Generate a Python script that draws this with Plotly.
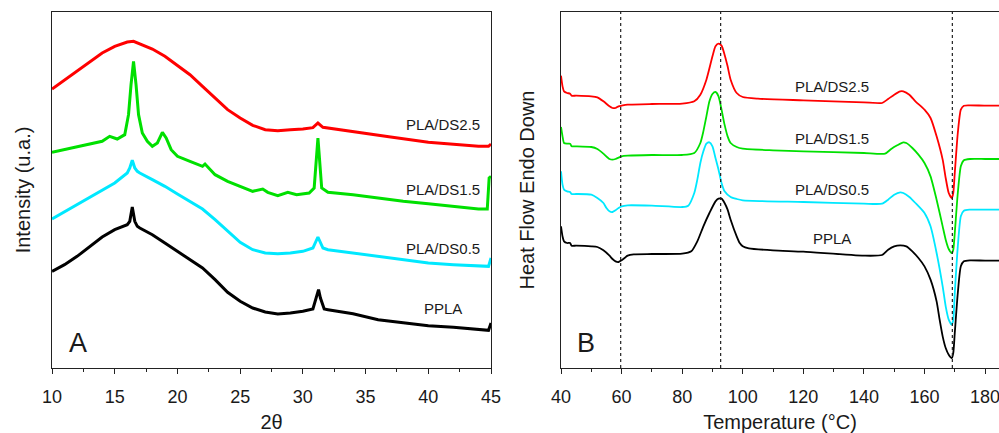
import plotly.graph_objects as go

# ---------------- XRD data (panel A) ----------------
xrd_names = ["PLA/DS2.5", "PLA/DS1.5", "PLA/DS0.5", "PPLA"]
xrd_colors = ["#ff0000", "#00e000", "#00e8ff", "#000000"]

red_2t = [10, 12, 14, 15, 16, 16.5, 17, 18, 19, 20, 21, 22, 23, 24, 25, 26, 27, 28, 29, 30,
          30.8, 31.2, 31.6, 33, 35, 37, 40, 42, 44, 44.8, 45]
red_i = [837, 890, 945, 965, 978, 980, 973, 957, 935, 908, 880, 845, 810, 775, 750, 728, 715, 712, 715, 717,
         721, 735, 722, 715, 705, 693, 677, 670, 665, 665, 672]

green_2t = [10, 11, 12, 13, 14, 14.6, 15.2, 15.8, 16.1, 16.3, 16.5, 16.7, 16.9, 17.2, 17.6, 18, 18.4, 18.8,
            19.1, 19.5, 20, 21, 22, 22.2, 22.6, 23, 24, 25, 26, 26.8, 27.2, 28, 28.8, 29.5, 30.5, 30.9,
            31.1, 31.2, 31.3, 31.5, 32, 34, 36, 38, 40, 42, 44, 44.7, 44.85, 45]
green_i = [647, 655, 665, 673, 680, 695, 687, 700, 760, 850, 920, 850, 760, 705, 680, 665, 675, 707,
           690, 655, 635, 620, 605, 612, 597, 580, 560, 545, 530, 537, 527, 517, 527, 520, 525, 540,
           640, 690, 640, 540, 527, 520, 510, 500, 493, 485, 477, 477, 570, 575]

cyan_2t = [10, 12, 14, 15, 16, 16.2, 16.4, 16.6, 16.8, 17, 18, 19, 20, 21, 22, 23, 24, 25, 26, 27, 28, 29,
           30, 30.8, 31.2, 31.6, 32, 34, 36, 38, 40, 42, 44, 44.8, 45]
cyan_i = [447, 490, 535, 555, 585, 600, 623, 600, 590, 585, 565, 545, 522, 500, 477, 445, 410, 377, 355,
          345, 343, 345, 350, 360, 393, 360, 355, 345, 333, 323, 315, 310, 305, 305, 330]

black_2t = [10, 11, 12, 13, 14, 15, 16, 16.2, 16.4, 16.6, 16.8, 17, 18, 19, 20, 21, 22, 23, 24, 25, 26,
            27, 28, 29, 30, 30.8, 31.1, 31.25, 31.4, 31.7, 32, 33, 34, 36, 38, 40, 42, 44, 44.8, 45]
black_i = [290, 310, 335, 363, 393, 415, 430, 440, 483, 440, 425, 420, 400, 375, 350, 325, 300, 265, 227,
           200, 180, 168, 162, 165, 170, 177, 220, 235, 210, 177, 175, 170, 163, 145, 135, 127, 122, 115,
           113, 135]

# ---------------- DSC data (panel B) ----------------
dsc_names = ["PLA/DS2.5", "PLA/DS1.5", "PLA/DS0.5", "PPLA"]
dsc_colors = ["#ff0000", "#00e000", "#00e8ff", "#000000"]

red_T = [40, 40.5, 41, 42, 43, 43.5, 45, 50, 52, 54, 56, 57, 58, 59, 60, 62, 70, 80, 84, 86, 88, 90, 91,
         92, 93, 94, 95, 96, 98, 100, 105, 120, 140, 146, 148, 150, 152, 153, 155, 157, 160, 162, 164,
         166, 167, 168, 169, 169.5, 170, 171, 172, 173, 175, 180, 184.6]
red_hf = [877, 845, 830, 825, 823, 817, 817, 815, 812, 800, 785, 780, 780, 785, 787, 790, 792, 793, 800,
          820, 865, 935, 965, 973, 967, 940, 905, 865, 825, 813, 808, 803, 797, 795, 807, 820, 830, 830,
          820, 800, 775, 750, 695, 625, 570, 525, 510, 525, 585, 705, 775, 787, 788, 787, 787]

green_T = [40, 40.5, 41, 42, 43, 43.5, 45, 50, 52, 54, 56, 57, 58, 60, 62, 70, 80, 84, 86, 87, 88, 89, 90,
           91, 92, 93, 94, 95, 96, 98, 100, 110, 120, 140, 147, 149, 151, 153, 154, 156, 158, 160, 162,
           164, 166, 167, 168, 169, 169.5, 170, 171, 172, 173, 175, 180, 184.6]
green_hf = [723, 695, 675, 673, 673, 665, 665, 663, 657, 643, 627, 625, 627, 635, 637, 639, 639, 645, 675,
            710, 755, 800, 822, 828, 815, 775, 730, 695, 675, 663, 658, 653, 650, 645, 643, 657, 668, 677,
            675, 660, 640, 615, 575, 505, 425, 385, 357, 345, 355, 405, 525, 605, 623, 627, 627, 627]

cyan_T = [40, 40.5, 41, 42, 43, 43.5, 45, 50, 52, 54, 55, 56, 57, 58, 59, 60, 62, 70, 80, 82, 84, 85, 86,
          87, 88, 89, 90, 91, 92, 93, 94, 96, 98, 100, 120, 140, 146, 148, 150, 152, 153, 155, 157, 160,
          162, 164, 166, 167, 168, 169, 169.5, 170, 171, 172, 173, 175, 180, 184.6]
cyan_hf = [590, 550, 535, 530, 528, 522, 522, 520, 510, 495, 480, 470, 468, 473, 480, 485, 488, 487, 483,
           487, 525, 565, 615, 650, 673, 677, 665, 630, 595, 555, 530, 513, 507, 503, 498, 493, 493, 505,
           520, 527, 525, 513, 495, 465, 425, 345, 245, 185, 145, 130, 145, 225, 365, 455, 472, 475, 475,
           475]

black_T = [40, 40.5, 41, 42, 43, 43.5, 45, 50, 52, 54, 56, 57, 58, 59, 60, 61, 62, 64, 70, 80, 83, 85, 87,
           89, 91, 92, 93, 94, 95, 96, 98, 99, 100, 102, 110, 120, 140, 146, 148, 150, 152, 154, 156, 158,
           160, 162, 164, 165, 166, 167, 168, 169, 169.5, 170, 171, 172, 173, 175, 180, 184.6]
black_hf = [425, 395, 380, 375, 375, 367, 367, 365, 363, 353, 337, 327, 320, 318, 323, 330, 337, 341, 342,
            343, 350, 380, 425, 465, 500, 508, 508, 495, 475, 445, 395, 375, 365, 359, 353, 349, 337, 339,
            355, 365, 368, 365, 350, 330, 305, 265, 200, 145, 95, 60, 40, 30, 45, 105, 225, 305, 320, 323,
            322, 322]

dsc_guides = [59.7, 92.7, 169.2]

xrd_x = [red_2t, green_2t, cyan_2t, black_2t]
xrd_y = [red_i, green_i, cyan_i, black_i]
dsc_x = [red_T, green_T, cyan_T, black_T]
dsc_y = [red_hf, green_hf, cyan_hf, black_hf]

FONT = "Liberation Sans, Arial, sans-serif"
TXT = "#1a1a1a"

fig = go.Figure()
for name, col, xs, ys in zip(xrd_names, xrd_colors, xrd_x, xrd_y):
    fig.add_trace(go.Scatter(x=xs, y=ys, mode="lines", name=name,
                             line=dict(color=col, width=3), xaxis="x", yaxis="y",
                             showlegend=False))
for name, col, xs, ys in zip(dsc_names, dsc_colors, dsc_x, dsc_y):
    fig.add_trace(go.Scatter(x=xs, y=ys, mode="lines", name=name,
                             line=dict(color=col, width=1.8, shape="spline", smoothing=0.6),
                             xaxis="x2", yaxis="y2", showlegend=False))

for g in dsc_guides:
    fig.add_shape(type="line", xref="x2", yref="y2 domain", x0=g, x1=g, y0=0, y1=1,
                  line=dict(color="#222222", width=1.2, dash="dot"), layer="above")

axis_common = dict(showline=True, linecolor="#222222", linewidth=1.3, showgrid=False, zeroline=False,
                   ticks="outside", ticklen=5, tickwidth=1.2, tickcolor="#222222", ticklabelstandoff=7,
                   ticklabeloverflow="allow",
                   tickfont=dict(family=FONT, size=18, color=TXT), automargin=False)

fig.update_layout(
    width=999, height=433,
    margin=dict(l=52, r=0, t=12, b=65),
    paper_bgcolor="white", plot_bgcolor="white",
    xaxis=dict(domain=[0, 0.4636], range=[10, 45], dtick=5, tick0=10, mirror=True,
               minor=dict(ticks="outside", ticklen=3, dtick=2.5, tick0=10, tickcolor="#222222"),
               title=dict(text="2θ", font=dict(family=FONT, size=20, color=TXT), standoff=20),
               anchor="y", **axis_common),
    yaxis=dict(domain=[0, 1], range=[0, 1068], showline=True, linecolor="#222222", linewidth=1.3,
               mirror=True, showgrid=False, zeroline=False, showticklabels=False, ticks="",
               title=dict(text="Intensity (u.a.)", font=dict(family=FONT, size=20, color=TXT), standoff=14),
               anchor="x", automargin=False),
    xaxis2=dict(domain=[0.5375, 1], range=[40, 184.6], dtick=20, tick0=40, mirror=True,
                minor=dict(ticks="outside", ticklen=3, dtick=10, tick0=40, tickcolor="#222222"),
                title=dict(text="Temperature (°C)", font=dict(family=FONT, size=20, color=TXT), standoff=16),
                anchor="y2", **axis_common),
    yaxis2=dict(domain=[0, 1], range=[0, 1068], showline=True, linecolor="#222222", linewidth=1.3,
                mirror=False, showgrid=False, zeroline=False, showticklabels=False, ticks="",
                title=dict(text="Heat Flow Endo Down", font=dict(family=FONT, size=20, color=TXT), standoff=19),
                anchor="x2", automargin=False),
)

lab_font = dict(family=FONT, size=15, color=TXT)
# Panel A curve labels
for txt, yv in zip(xrd_names, [730, 535, 360, 180]):
    fig.add_annotation(x=41.2, y=yv, xref="x", yref="y", text=txt, showarrow=False, font=lab_font)
# Panel B curve labels
for txt, yv in zip(dsc_names, [845, 690, 537, 390]):
    fig.add_annotation(x=129.5, y=yv, xref="x2", yref="y2", text=txt, showarrow=False, font=lab_font)

fig.add_annotation(x=12.1, y=75, xref="x", yref="y", text="A", showarrow=False,
                   font=dict(family=FONT, size=27, color=TXT))
fig.add_annotation(x=48.3, y=75, xref="x2", yref="y2", text="B", showarrow=False,
                   font=dict(family=FONT, size=27, color=TXT))

fig.write_html("out.html")
